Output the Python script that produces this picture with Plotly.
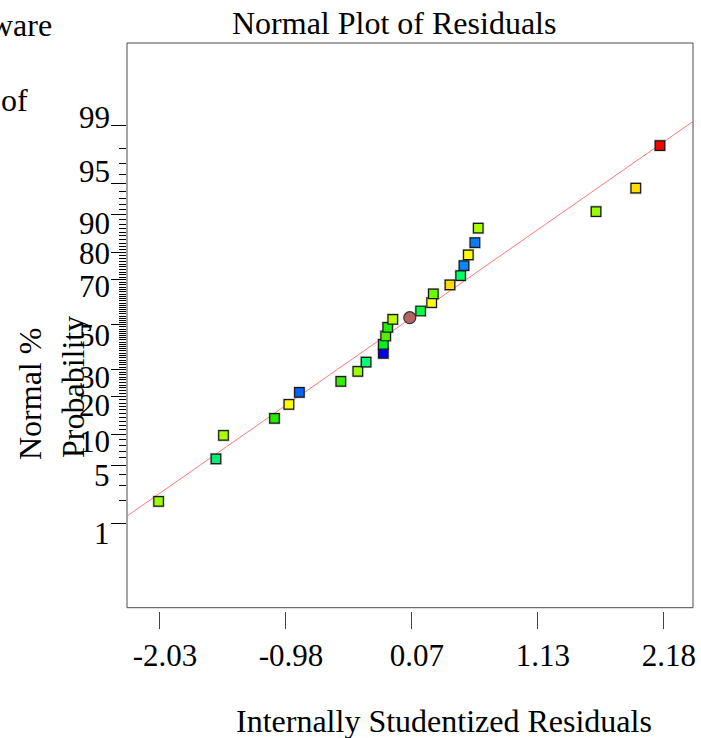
import plotly.graph_objects as go
from statistics import NormalDist

_nd = NormalDist()


def probit(pct):
    return _nd.inv_cdf(pct / 100.0)


# ---------------- data ----------------
RESIDUALS = [-2.041, -1.562, -1.499, -1.073, -0.953, -0.865, -0.519, -0.377,
             -0.308, -0.164, -0.164, -0.144, -0.127, -0.085, 0.148, 0.240,
             0.254, 0.393, 0.482, 0.510, 0.546, 0.601, 0.629, 1.613, 1.945,
             2.147]
PROBABILITY = [1.95, 5.86, 9.80, 13.70, 17.60, 21.47, 25.41, 29.30, 33.14,
               36.91, 40.94, 44.75, 48.79, 52.52, 56.36, 60.15, 64.02, 67.87,
               71.66, 75.48, 79.24, 83.11, 87.01, 90.68, 94.46, 98.18]
POINT_COLORS = ["#99ff00", "#00ee77", "#aaff00", "#22ee00", "#ffff00",
                "#0066ff", "#33ee00", "#99ff00", "#00ff77", "#0000ee",
                "#00ee22", "#55ee00", "#22ee00", "#bbff00", "#00ff44",
                "#ffff00", "#66ff00", "#ffdd00", "#00ff66", "#0088ff",
                "#ffff00", "#0080ff", "#aaff00", "#99ff00", "#ffdd00",
                "#ff0000"]

HIGHLIGHT_RESIDUAL = [0.057]
HIGHLIGHT_PROBABILITY = [53.26]

REF_LINE_RESIDUAL = [-2.305, 2.423]
REF_LINE_PROBABILITY = [1.27, 99.12]

X_TICK_VALUES = [-2.03, -0.9775, 0.075, 1.1275, 2.18]
X_TICK_TEXT = ["-2.03", "-0.98", "0.07", "1.13", "2.18"]

Y_TICK_PCT = [1, 5, 10, 20, 30, 50, 70, 80, 90, 95, 99]
Y_TICK_TEXT = ["1", "5", "10", "20", "30", "50", "70", "80", "90", "95", "99"]
Y_MINOR_PCT = [p for p in range(2, 99) if p not in Y_TICK_PCT]

# --------------- style ---------------
FONT = "Liberation Serif"
FS = 31
W, H = 701, 738
ML, MR, MT, MB = 127, 8, 43, 127
PW = W - ML - MR
PH = H - MT - MB
# vertical pixel offsets of the y tick labels relative to their ticks (down = +)
Y_LABEL_DROP = [9.3, 10, 7.4, 8.3, 7.4, 10.5, 6.7, 0.8, 8.5, -12.3, -7.7]


def px_x(px):
    return (px - ML) / PW


def px_y(py):
    return (H - MB - py) / PH


fig = go.Figure()

fig.add_trace(go.Scatter(
    x=REF_LINE_RESIDUAL, y=[probit(p) for p in REF_LINE_PROBABILITY],
    mode="lines", line=dict(color="#ff7878", width=1),
    hoverinfo="skip", showlegend=False))

yvals = [probit(p) for p in PROBABILITY]
fig.add_trace(go.Scatter(
    x=RESIDUALS, y=yvals, mode="markers",
    marker=dict(symbol="square", size=12, color="rgba(120,120,120,0.45)",
                line=dict(width=0)),
    hoverinfo="skip", showlegend=False))
fig.add_trace(go.Scatter(
    x=RESIDUALS, y=yvals, mode="markers",
    marker=dict(symbol="square", size=9.5, color=POINT_COLORS,
                line=dict(color="#1a1a1a", width=1.2)),
    showlegend=False))
fig.add_trace(go.Scatter(
    x=HIGHLIGHT_RESIDUAL, y=[probit(p) for p in HIGHLIGHT_PROBABILITY],
    mode="markers",
    marker=dict(symbol="circle", size=12, color="#b86262",
                line=dict(color="#333333", width=1.2)),
    showlegend=False))

dom0 = 3.3 / PH
fig.update_layout(
    width=W, height=H,
    margin=dict(l=ML, r=MR, t=MT, b=MB, pad=0, autoexpand=False),
    paper_bgcolor="white", plot_bgcolor="white",
    font=dict(family=FONT, size=FS, color="black"),
    xaxis=dict(range=[-2.305, 2.423], tickmode="array",
               tickvals=X_TICK_VALUES, ticktext=X_TICK_TEXT,
               ticks="outside", ticklen=17, tickwidth=1, tickcolor="#444",
               ticklabelshift=5, automargin=False,
               tickfont=dict(family=FONT, size=FS, color="black"),
               showline=False, showgrid=False, zeroline=False,
               anchor="free", position=0),
    yaxis=dict(range=[-3.305, 3.29], domain=[dom0, 1], tickmode="array",
               tickvals=[probit(p) for p in Y_TICK_PCT],
               showticklabels=False, automargin=False,
               ticks="outside", ticklen=15, tickwidth=1, tickcolor="black",
               minor=dict(tickmode="array",
                          tickvals=[probit(p) for p in Y_MINOR_PCT],
                          ticks="outside", ticklen=7, tickwidth=1,
                          tickcolor="black"),
               showline=False, showgrid=False, zeroline=False),
)

# frame
fig.add_shape(type="rect", xref="x domain", yref="y domain",
              x0=0, x1=1, y0=0, y1=1,
              line=dict(color="#4a4a4a", width=1), fillcolor="rgba(0,0,0,0)",
              layer="below")

ann = []
for pct, txt, drop in zip(Y_TICK_PCT, Y_TICK_TEXT, Y_LABEL_DROP):
    ann.append(dict(x=px_x(112), xref="paper", y=probit(pct), yref="y",
                    yshift=-drop, text=txt, showarrow=False,
                    xanchor="right", yanchor="middle",
                    font=dict(family=FONT, size=FS, color="black")))

TITLE_FONT = dict(family=FONT, size=32, color="black")
ann += [
    dict(x=px_x(394), y=px_y(23), xref="paper", yref="paper",
         text="Normal Plot of Residuals", showarrow=False,
         xanchor="center", yanchor="middle", font=TITLE_FONT),
    dict(x=px_x(444), y=px_y(721), xref="paper", yref="paper",
         text="Internally Studentized Residuals", showarrow=False,
         xanchor="center", yanchor="middle", font=TITLE_FONT),
    dict(x=px_x(30), y=px_y(394), xref="paper", yref="paper",
         text="Normal %", textangle=-90, showarrow=False,
         xanchor="center", yanchor="middle", font=TITLE_FONT),
    dict(x=px_x(73), y=px_y(387), xref="paper", yref="paper",
         text="Probability", textangle=-90, showarrow=False,
         xanchor="center", yanchor="middle", font=TITLE_FONT),
    dict(x=px_x(54), y=px_y(24.5), xref="paper", yref="paper",
         text="ware", showarrow=False,
         xanchor="right", yanchor="middle", font=TITLE_FONT),
    dict(x=px_x(30), y=px_y(100.5), xref="paper", yref="paper",
         text="of", showarrow=False,
         xanchor="right", yanchor="middle", font=TITLE_FONT),
]
fig.update_layout(annotations=ann)

fig.write_html("out.html")
